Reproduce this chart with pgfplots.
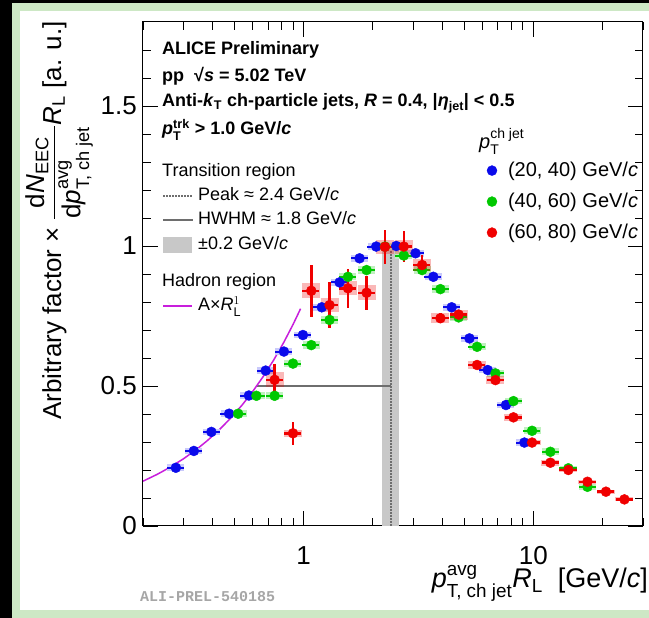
\documentclass[border=0pt]{standalone}
\usepackage{amsmath}
\usepackage{pgfplots}
\pgfplotsset{compat=1.18}
\usepackage{pgfplotstable}
\usepackage{fontspec}
\setmainfont{Liberation Sans}
\newfontfamily\monofont{Liberation Mono}

\definecolor{cblue}{RGB}{10,10,235}
\definecolor{cgreen}{RGB}{0,200,0}
\definecolor{cred}{RGB}{240,0,0}
\definecolor{cmag}{RGB}{200,30,220}
\definecolor{framegreen}{RGB}{205,232,197}
\definecolor{band}{RGB}{200,200,200}
\definecolor{hwhm}{RGB}{110,110,110}

% p_T^ch jet (20,40) GeV/c
\pgfplotstableread{
x     y     ey     sys
0.278 0.208 0.005 0.012
0.333 0.268 0.005 0.012
0.397 0.336 0.005 0.012
0.474 0.401 0.005 0.012
0.578 0.466 0.005 0.012
0.684 0.555 0.005 0.012
0.821 0.623 0.005 0.012
0.993 0.682 0.005 0.012
1.20  0.781 0.005 0.012
1.434 0.870 0.005 0.012
1.752 0.956 0.005 0.012
2.07  0.998 0.005 0.012
2.53  1.000 0.005 0.012
3.07  0.974 0.005 0.012
3.67  0.890 0.005 0.012
4.41  0.781 0.005 0.012
5.27  0.670 0.005 0.012
6.33  0.557 0.005 0.012
7.60  0.432 0.005 0.012
9.14  0.298 0.005 0.012
}\bluedata

% (40,60) GeV/c
\pgfplotstableread{
x     y     ey     sys
0.519 0.401 0.005 0.013
0.623 0.465 0.005 0.013
0.748 0.465 0.005 0.013
0.899 0.580 0.005 0.013
1.08  0.646 0.005 0.013
1.297 0.736 0.005 0.013
1.56  0.890 0.006 0.013
1.88  0.914 0.006 0.013
2.26  0.998 0.006 0.013
2.73  0.966 0.006 0.013
3.28  0.914 0.005 0.013
3.94  0.846 0.005 0.013
4.73  0.745 0.005 0.013
5.69  0.640 0.005 0.013
6.84  0.545 0.005 0.013
8.19  0.446 0.005 0.012
9.87  0.340 0.005 0.012
11.86 0.265 0.005 0.012
14.2  0.206 0.005 0.010
17.2  0.140 0.005 0.010
}\greendata

% (60,80) GeV/c
\pgfplotstableread{
x     y      ey    sys
0.748 0.522  0.057 0.027
0.899 0.331  0.040 0.012
1.08  0.840  0.092 0.027
1.297 0.789  0.083 0.025
1.56  0.849  0.070 0.025
1.88  0.833  0.060 0.027
2.26  0.997  0.060 0.025
2.73  0.998  0.054 0.025
3.28  0.932  0.036 0.022
3.94  0.742  0.018 0.018
4.73  0.755  0.015 0.018
5.69  0.575  0.012 0.015
6.84  0.521  0.010 0.014
8.19  0.388  0.008 0.012
9.87  0.298  0.007 0.010
11.86 0.226  0.006 0.010
14.2  0.200  0.005 0.008
17.2  0.158  0.005 0.008
20.7  0.1225 0.005 0.007
24.9  0.095  0.005 0.007
}\reddata

\begin{document}
\begin{tikzpicture}[x=1pt,y=1pt]
\useasboundingbox (0,0) rectangle (649,618);
\fill[black] (0,0) rectangle (649,618);
\fill[framegreen] (12,0) rectangle (649,615);
\fill[white] (20,8) rectangle (649,607);

\begin{axis}[
  at={(143pt,92pt)}, anchor=south west,
  scale only axis, width=500pt, height=504pt,
  xmode=log,
  xmin=0.2, xmax=30, ymin=0, ymax=1.8,
  xtick={1,10}, xticklabels={1,10},
  minor xtick={0.2,0.3,0.4,0.5,0.6,0.7,0.8,0.9,2,3,4,5,6,7,8,9,20,30},
  ytick={0,0.5,1,1.5}, yticklabels={0,0.5,1,1.5},
  minor ytick={0.1,0.2,0.3,0.4,0.6,0.7,0.8,0.9,1.1,1.2,1.3,1.4,1.6,1.7},
  major tick length=15pt, minor tick length=8pt,
  tick style={black, line width=0.8pt},
  axis line style={line width=1pt},
  xticklabel style={font=\fontsize{26}{30}\selectfont, anchor=base, inner sep=0pt, yshift=-39pt},
  yticklabel style={font=\fontsize{26}{30}\selectfont, anchor=east, inner sep=0pt, xshift=-6pt},
  legend style={at={(0.688,0.726)}, anchor=north west, draw=none, fill=none,
    inner sep=0pt, outer sep=0pt, row sep=10pt, column sep=10pt,
    font=\fontsize{20}{24}\selectfont,
    nodes={inner sep=1pt, text height=15pt, text depth=4pt}},
  legend cell align=left,
  legend image code/.code={\draw[#1] plot coordinates {(0pt,0pt)};},
]
% transition region band and lines
\addplot[forget plot, fill=band, draw=none] coordinates {(2.2,0) (2.6,0) (2.6,0.99) (2.2,0.99)} -- cycle;
\addplot[forget plot, color=hwhm, line width=1.5pt, dash pattern=on 1.5pt off 1.5pt] coordinates {(2.4,0) (2.4,0.99)};
\addplot[forget plot, color=hwhm, line width=2pt] coordinates {(0.62,0.5) (2.4,0.5)};
% hadron region A x R_L
\addplot[forget plot, color=cmag, line width=1.5pt] coordinates {
(0.2,0.160) (0.23,0.184) (0.26,0.208) (0.3,0.240) (0.34,0.272) (0.38,0.304)
(0.43,0.344) (0.48,0.384) (0.54,0.432) (0.6,0.480) (0.67,0.536) (0.74,0.592)
(0.82,0.656) (0.9,0.720) (0.97,0.776)};

% blue
\addplot[forget plot, draw=none, mark=none, error bars/.cd, y dir=both, y explicit, error mark=none,
  error bar style={draw=cblue!22, line width=17pt}] table[x=x, y=y, y error=sys]{\bluedata};
\addplot[only marks, mark=*, mark size=5pt, color=cblue, error bars/.cd, x dir=both, x fixed relative=0.085,
  y dir=both, y explicit, error mark=none, error bar style={line width=2pt}] table[x=x, y=y, y error=ey]{\bluedata};
\addlegendentry{(20, 40) GeV/\textit{c}}
% green
\addplot[forget plot, draw=none, mark=none, error bars/.cd, y dir=both, y explicit, error mark=none,
  error bar style={draw=cgreen!25, line width=17pt}] table[x=x, y=y, y error=sys]{\greendata};
\addplot[only marks, mark=*, mark size=5pt, color=cgreen, error bars/.cd, x dir=both, x fixed relative=0.085,
  y dir=both, y explicit, error mark=none, error bar style={line width=2pt}] table[x=x, y=y, y error=ey]{\greendata};
\addlegendentry{(40, 60) GeV/\textit{c}}
% red
\addplot[forget plot, draw=none, mark=none, error bars/.cd, y dir=both, y explicit, error mark=none,
  error bar style={draw=cred, opacity=0.28, line width=18pt}] table[x=x, y=y, y error=sys]{\reddata};
\addplot[only marks, mark=*, mark size=5pt, color=cred, error bars/.cd, x dir=both, x fixed relative=0.085,
  y dir=both, y explicit, error mark=none, error bar style={line width=2.5pt}] table[x=x, y=y, y error=ey]{\reddata};
\addlegendentry{(60, 80) GeV/\textit{c}}
\end{axis}

% text block
\begin{scope}[every node/.style={anchor=base west, inner sep=0pt, font=\fontsize{18}{22}\selectfont}]
\node[font=\fontsize{18}{22}\selectfont\bfseries] at (162,563) {ALICE Preliminary};
\node[font=\fontsize{18}{22}\selectfont\bfseries] at (162,536) {pp \ √\textit{s} = 5.02 TeV};
\node[font=\fontsize{18}{22}\selectfont\bfseries] at (162,511) {Anti-\textit{k}$_{\text{T}}$ ch-particle jets, \textit{R} = 0.4, |\textit{η}$_{\text{jet}}$| < 0.5};
\node[font=\fontsize{18}{22}\selectfont\bfseries] at (162,483) {\textit{p}$^{\text{trk}}_{\text{T}}$ > 1.0 GeV/\textit{c}};
\node at (162,441) {Transition region};
\node at (198,417) {Peak ≈ 2.4 GeV/\textit{c}};
\node at (198,393) {HWHM ≈ 1.8 GeV/\textit{c}};
\node at (198,368) {±0.2 GeV/\textit{c}};
\node at (162,331) {Hadron region};
\node at (198,307) {A×\textit{R}$^{1}_{\text{L}}$};
\node[font=\fontsize{20}{24}\selectfont] at (479,469) {\textit{p}$^{\text{ch jet}}_{\text{T}}$};
\end{scope}
\draw[hwhm, line width=1.5pt, dash pattern=on 1.5pt off 1.5pt] (163,422) -- (193,422);
\draw[hwhm, line width=2pt] (163,398) -- (193,398);
\fill[band] (163,365) rectangle (192,381);
\draw[cmag, line width=1.5pt] (163,312) -- (192,312);

% axis titles
\node[rotate=90, anchor=base east, inner sep=0pt, font=\fontsize{26}{31}\selectfont] at (61,597)
  {Arbitrary factor × $\displaystyle\frac{\text{d}\textit{N}_{\text{EEC}}}{\text{d}\textit{p}^{\text{avg}}_{\text{T, ch jet}}}\textit{R}_{\text{L}}$ [a. u.]};
\node[anchor=base east, inner sep=0pt, font=\fontsize{27}{32}\selectfont] at (648,30)
  {$\textit{p}^{\text{avg}}_{\text{T, ch jet}}\textit{R}_{\text{L}}$\hspace{0.55em}[GeV/\textit{c}]};
\node[anchor=base west, inner sep=0pt, font=\monofont\bfseries\fontsize{15}{18}\selectfont, text=gray!70] at (140,16) {ALI-PREL-540185};
\end{tikzpicture}
\end{document}
